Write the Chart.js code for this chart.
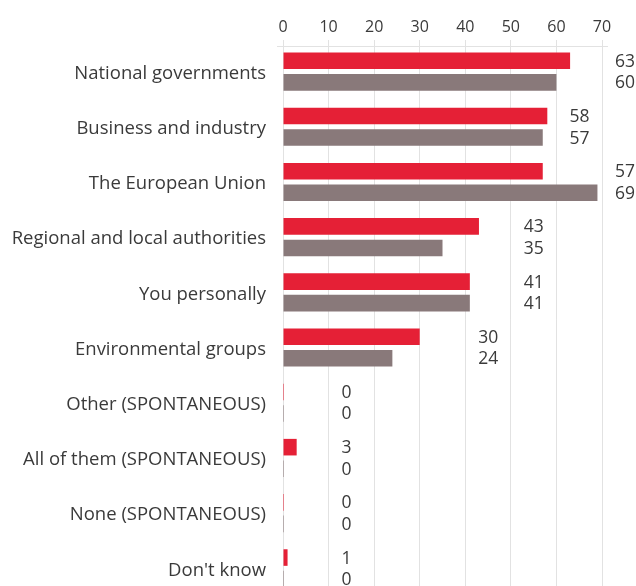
<!DOCTYPE html>
<html>
<head>
<meta charset="utf-8">
<script src="https://cdn.jsdelivr.net/npm/chart.js@4/dist/chart.umd.min.js"></script>
<style>
  html, body { margin: 0; padding: 0; background: #fff; overflow: hidden; }
  canvas { display: block; }
</style>
</head>
<body>
<canvas id="myChart" width="636" height="624"></canvas>
<script>
var categories = [
  "National governments",
  "Business and industry",
  "The European Union",
  "Regional and local authorities",
  "You personally",
  "Environmental groups",
  "Other (SPONTANEOUS)",
  "All of them (SPONTANEOUS)",
  "None (SPONTANEOUS)",
  "Don't know"
];

var seriesA = [63, 58, 57, 43, 41, 30, 0, 3, 0, 1];
var seriesB = [60, 57, 69, 35, 41, 24, 0, 0, 0, 0];

var xMin = 0;
var xMax = 70;
var xStep = 10;

var textColor = "#3a3a3a";
var gridColor = "#e2e2e2";
var fontName = "'Open Sans', sans-serif";

// value pairs sit just past the next gridline after the longer bar
var valueLabels = {
  id: "valueLabels",
  afterDatasetsDraw: function (chart) {
    var ctx = chart.ctx;
    var xs = chart.scales.x;
    ctx.save();
    ctx.font = "17.5px " + fontName;
    ctx.fillStyle = textColor;
    ctx.textAlign = "left";
    ctx.textBaseline = "middle";
    for (var i = 0; i < categories.length; i++) {
      var top = Math.max(seriesA[i], seriesB[i]);
      var gx = xs.getPixelForValue((Math.floor(top / xStep) + 1) * xStep) + 13;
      chart.data.datasets.forEach(function (ds, d) {
        var bar = chart.getDatasetMeta(d).data[i];
        ctx.fillText(String(ds.data[i]), gx, bar.y + 1);
      });
    }
    ctx.restore();
  },
  beforeDatasetsDraw: function (chart) {
    // axis line along the top, a bit wider than the plot
    var ctx = chart.ctx;
    var a = chart.chartArea;
    ctx.save();
    ctx.strokeStyle = gridColor;
    ctx.lineWidth = 1;
    ctx.beginPath();
    ctx.moveTo(a.left - 6, a.top + 2.5);
    ctx.lineTo(a.right + 6, a.top + 2.5);
    ctx.stroke();
    ctx.restore();
  }
};

new Chart("myChart", {
  type: "bar",
  data: {
    labels: categories,
    datasets: [
      { data: seriesA, backgroundColor: "#e52036", minBarLength: 1 },
      { data: seriesB, backgroundColor: "#89797a", minBarLength: 1 }
    ]
  },
  options: {
    indexAxis: "y",
    responsive: false,
    animation: false,
    categoryPercentage: 0.78,
    barPercentage: 0.77,
    layout: { padding: { top: 0, right: 34, bottom: 4, left: 0 } },
    plugins: { legend: { display: false }, tooltip: { enabled: false } },
    scales: {
      x: {
        position: "top",
        min: xMin,
        max: xMax,
        ticks: { stepSize: xStep, color: textColor, font: { family: fontName, size: 16 }, padding: 3 },
        grid: { color: gridColor, lineWidth: 1, tickLength: 4, drawTicks: true },
        border: { display: false },
        afterFit: function (s) { s.height = 44; }
      },
      y: {
        ticks: { color: textColor, font: { family: fontName, size: 18.5 }, padding: 17, labelOffset: 2, autoSkip: false },
        grid: { display: false, drawTicks: false },
        border: { display: false },
        afterFit: function (s) { s.width = 283; }
      }
    }
  },
  plugins: [valueLabels]
});
</script>
</body>
</html>
